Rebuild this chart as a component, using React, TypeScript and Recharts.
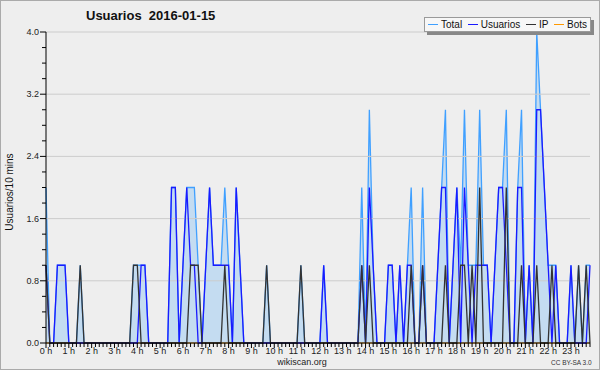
import { ComposedChart, Area, Line, XAxis, YAxis, ReferenceLine } from "recharts";

// one point every 10 minutes, 0:00 .. 23:50
const hourLabels = [
  "0 h", "1 h", "2 h", "3 h", "4 h", "5 h", "6 h", "7 h", "8 h", "9 h", "10 h", "11 h",
  "12 h", "13 h", "14 h", "15 h", "16 h", "17 h", "18 h", "19 h", "20 h", "21 h", "22 h", "23 h",
];

const total = [
  2, 0, 0, 1, 1, 1, 0, 0, 0, 1, 0, 0,
  0, 0, 0, 0, 0, 0, 0, 0, 0, 0, 0, 1,
  1, 1, 1, 0, 0, 0, 0, 0, 0, 2, 2, 0,
  1, 2, 2, 2, 1, 0, 1, 2, 1, 1, 1, 2,
  1, 0, 2, 1, 0, 0, 0, 0, 0, 0, 1, 0,
  0, 0, 0, 0, 0, 0, 0, 1, 0, 0, 0, 0,
  0, 1, 0, 0, 0, 0, 0, 0, 0, 0, 0, 2,
  0, 3, 1, 0, 0, 0, 1, 1, 0, 1, 0, 1,
  2, 0, 0, 2, 0, 0, 0, 1, 2, 3, 0, 1,
  2, 1, 3, 1, 1, 1, 3, 1, 1, 0, 1, 2,
  2, 3, 0, 0, 2, 3, 0, 1, 0, 4, 3, 2,
  1, 1, 1, 0, 0, 0, 1, 0, 1, 0, 1, 1,
];

const usuarios = [
  1, 0, 0, 1, 1, 1, 0, 0, 0, 0, 0, 0,
  0, 0, 0, 0, 0, 0, 0, 0, 0, 0, 0, 0,
  0, 1, 1, 0, 0, 0, 0, 0, 0, 2, 2, 0,
  1, 2, 1, 1, 0, 0, 1, 2, 1, 1, 1, 1,
  1, 0, 2, 1, 0, 0, 0, 0, 0, 0, 0, 0,
  0, 0, 0, 0, 0, 0, 0, 0, 0, 0, 0, 0,
  0, 1, 0, 0, 0, 0, 0, 0, 0, 0, 0, 1,
  0, 2, 1, 0, 0, 0, 1, 1, 0, 1, 0, 1,
  1, 0, 0, 1, 0, 0, 0, 1, 2, 2, 0, 1,
  2, 0, 2, 1, 0, 1, 1, 1, 1, 0, 1, 2,
  2, 1, 0, 0, 2, 2, 0, 1, 0, 3, 3, 2,
  1, 0, 1, 0, 0, 0, 1, 0, 0, 0, 0, 1,
];

const ip = [
  1, 0, 0, 0, 0, 0, 0, 0, 0, 1, 0, 0,
  0, 0, 0, 0, 0, 0, 0, 0, 0, 0, 0, 1,
  1, 0, 0, 0, 0, 0, 0, 0, 0, 0, 0, 0,
  0, 0, 1, 1, 1, 0, 0, 0, 0, 0, 0, 1,
  0, 0, 0, 0, 0, 0, 0, 0, 0, 0, 1, 0,
  0, 0, 0, 0, 0, 0, 0, 1, 0, 0, 0, 0,
  0, 0, 0, 0, 0, 0, 0, 0, 0, 0, 0, 1,
  0, 1, 0, 0, 0, 0, 0, 0, 0, 0, 0, 0,
  1, 0, 0, 1, 0, 0, 0, 0, 0, 1, 0, 0,
  0, 1, 1, 0, 1, 0, 2, 0, 0, 0, 0, 0,
  0, 2, 0, 0, 0, 1, 0, 0, 0, 1, 0, 0,
  0, 1, 0, 0, 0, 0, 0, 0, 1, 0, 1, 0,
];

const bots = [
  0, 0, 0, 0, 0, 0, 0, 0, 0, 0, 0, 0,
  0, 0, 0, 0, 0, 0, 0, 0, 0, 0, 0, 0,
  0, 0, 0, 0, 0, 0, 0, 0, 0, 0, 0, 0,
  0, 0, 0, 0, 0, 0, 0, 0, 0, 0, 0, 0,
  0, 0, 0, 0, 0, 0, 0, 0, 0, 0, 0, 0,
  0, 0, 0, 0, 0, 0, 0, 0, 0, 0, 0, 0,
  0, 0, 0, 0, 0, 0, 0, 0, 0, 0, 0, 0,
  0, 0, 0, 0, 0, 0, 0, 0, 0, 0, 0, 0,
  0, 0, 0, 0, 0, 0, 0, 0, 0, 0, 0, 0,
  0, 0, 0, 0, 0, 0, 0, 0, 0, 0, 0, 0,
  0, 0, 0, 0, 0, 0, 0, 0, 0, 0, 0, 0,
  0, 0, 0, 0, 0, 0, 0, 0, 0, 0, 0, 0,
];

const yTicks = [0, 0.2, 0.4, 0.6, 0.8, 1.0, 1.2, 1.4, 1.6, 1.8, 2.0, 2.2, 2.4, 2.6, 2.8, 3.0, 3.2, 3.4, 3.6, 3.8, 4.0];
const yMajor = [0.8, 1.6, 2.4, 3.2, 4.0];

const legendItems = [
  { name: "Total", color: "#40a0ff" },
  { name: "Usuarios", color: "#1a1aff" },
  { name: "IP", color: "#333333" },
  { name: "Bots", color: "#ff9900" },
];

const data = total.map((t, i) => ({
  i,
  total: t,
  usuarios: usuarios[i],
  ip: ip[i],
  bots: bots[i],
}));

const FONT = '"Liberation Sans", Arial, sans-serif';

const XTick = (props: any) => {
  const { x, y, payload } = props;
  const i = payload.value as number;
  const isHour = i % 6 === 0;
  return (
    <g>
      <line x1={x} y1={y} x2={x} y2={y + (isHour ? 5 : 4)} stroke="#000" strokeWidth={1} />
      {isHour && (
        <text x={x} y={y + 11} textAnchor="middle" fontSize={9} fontFamily={FONT} fill="#222">
          {hourLabels[i / 6]}
        </text>
      )}
    </g>
  );
};

const YTick = (props: any) => {
  const { x, y, payload } = props;
  const v = payload.value as number;
  const major = Math.abs(v / 0.8 - Math.round(v / 0.8)) < 1e-6;
  return (
    <g>
      <line x1={x - (major ? 6 : 4)} y1={y} x2={x} y2={y} stroke="#000" strokeWidth={1} />
      {major && (
        <text x={x - 7} y={y + 3} textAnchor="end" fontSize={9} fontFamily={FONT} fill="#222">
          {v.toFixed(1)}
        </text>
      )}
    </g>
  );
};

export default function App() {
  return (
    <div
      style={{
        position: "absolute",
        left: 0,
        top: 0,
        width: 600,
        height: 370,
        background: "#eeeeee",
        fontFamily: FONT,
        overflow: "hidden",
      }}
    >
      <ComposedChart width={600} height={370} data={data} margin={{ top: 32, right: 10, bottom: 0, left: 0 }}>
        {yMajor.map((v) => (
          <ReferenceLine key={v} y={v} stroke="#cccccc" strokeWidth={1} />
        ))}
        <Line dataKey="bots" stroke="#ff9900" strokeWidth={1} dot={false} activeDot={false} isAnimationActive={false} />
        <Area
          type="linear"
          dataKey="total"
          stroke="#40a0ff"
          strokeWidth={1.3}
          fill="#c4dcf1"
          fillOpacity={1}
          dot={false}
          activeDot={false}
          isAnimationActive={false}
        />
        <Line
          type="linear"
          dataKey="usuarios"
          stroke="#1a1aff"
          strokeWidth={1.3}
          dot={false}
          activeDot={false}
          isAnimationActive={false}
        />
        <Line
          type="linear"
          dataKey="ip"
          stroke="#333333"
          strokeWidth={1.3}
          dot={false}
          activeDot={false}
          isAnimationActive={false}
        />
        <XAxis
          dataKey="i"
          type="number"
          domain={[0, 143]}
          ticks={data.map((d) => d.i)}
          interval={0}
          tickSize={0}
          tickMargin={0}
          tickLine={false}
          tick={<XTick />}
          axisLine={{ stroke: "#000" }}
          height={27}
        />
        <YAxis
          type="number"
          domain={[0, 4]}
          ticks={yTicks}
          interval={0}
          tickSize={0}
          tickMargin={0}
          tickLine={false}
          tick={<YTick />}
          axisLine={{ stroke: "#000" }}
          width={46}
        />
      </ComposedChart>

      <div style={{ position: "absolute", left: 86, top: 8, fontSize: 13, fontWeight: "bold", lineHeight: "15px", color: "#111", whiteSpace: "pre" }}>
        {"Usuarios  2016-01-15"}
      </div>

      <div
        style={{
          position: "absolute",
          left: -50,
          top: 186,
          width: 120,
          textAlign: "center",
          fontSize: 10,
          lineHeight: "12px",
          color: "#111",
          transform: "rotate(-90deg)",
        }}
      >
        Usuarios/10 mins
      </div>

      <div
        style={{
          position: "absolute",
          left: 424,
          top: 17,
          width: 167,
          height: 15,
          background: "#f7f7f7",
          border: "1px solid #9a9a9a",
          boxShadow: "3px 3px 0 #888",
          display: "flex",
          alignItems: "center",
          justifyContent: "space-between",
          fontSize: 10,
          color: "#111",
          boxSizing: "border-box",
          paddingLeft: 3,
          paddingRight: 3,
          whiteSpace: "nowrap",
        }}
      >
        {legendItems.map((it) => (
          <div key={it.name} style={{ display: "flex", alignItems: "center" }}>
            <span style={{ display: "inline-block", width: 10, height: 1.5, background: it.color, marginRight: 3 }} />
            <span>{it.name}</span>
          </div>
        ))}
      </div>

      <div style={{ position: "absolute", left: 260, width: 84, top: 357, textAlign: "center", fontSize: 9, lineHeight: "10px", color: "#222" }}>
        wikiscan.org
      </div>
      <div style={{ position: "absolute", left: 551, top: 359, fontSize: 6.5, lineHeight: "8px", color: "#333" }}>
        CC BY-SA 3.0
      </div>

      <div
        style={{
          position: "absolute",
          left: 0,
          top: 0,
          width: 600,
          height: 370,
          border: "1px solid #aaaaaa",
          boxSizing: "border-box",
          pointerEvents: "none",
        }}
      />
    </div>
  );
}
